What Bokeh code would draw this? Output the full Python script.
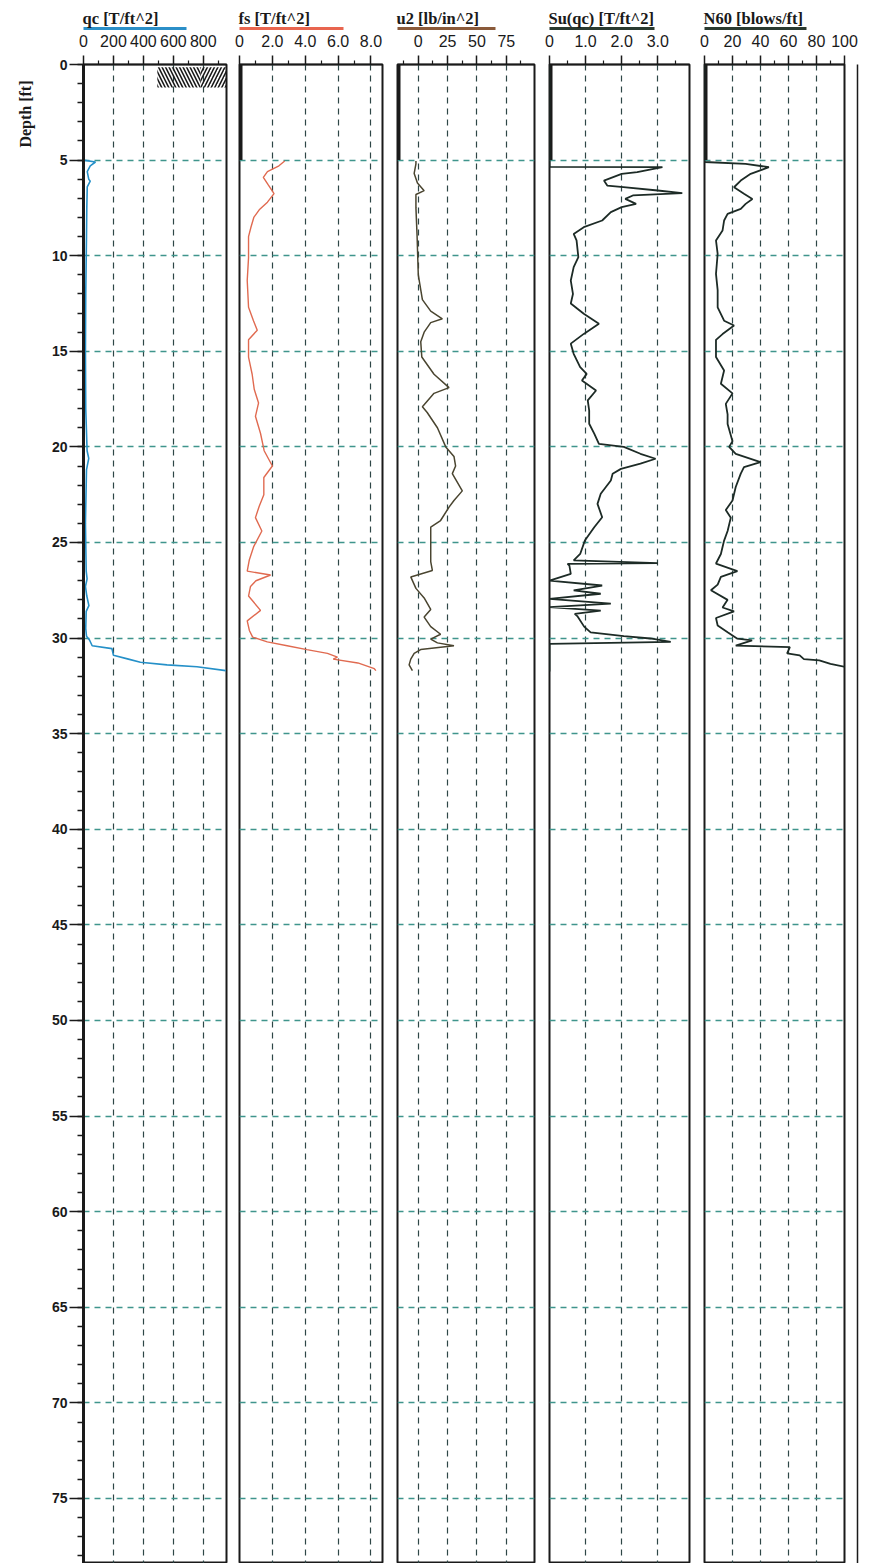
from bokeh.plotting import figure
from bokeh.layouts import row
from bokeh.models import Range1d, LinearAxis, FixedTicker, Grid, Title
from bokeh.embed import file_html
from bokeh.resources import INLINE

# ---------------- data ----------------
DEPTH_MAX = 78.4
DEPTH_TICKS = list(range(0, 80, 5))
DEPTH_MINOR = list(range(0, 79))
PREDRILL = [0.0, 5.0]

qc_depth = [5.0, 5.1, 5.3, 5.6, 6.0, 6.1, 6.4, 7.5, 9.0, 12.0, 15.0, 18.0, 20.2, 20.6, 21.2, 24.0,
            26.5, 26.9, 27.3, 27.8, 28.3, 28.6, 29.5, 29.9, 30.1, 30.4, 30.55, 30.9, 31.1, 31.26,
            31.4, 31.5, 31.7]
qc_value = [0, 80, 45, 25, 35, 45, 25, 22, 20, 15, 13, 15, 24, 35, 20, 13,
            18, 24, 13, 22, 36, 18, 15, 20, 40, 58, 190, 200, 300, 380,
            558, 758, 950]

fs_depth = [5.05, 5.3, 5.6, 5.9, 6.3, 6.75, 7.2, 7.6, 8.0, 8.5, 9.0, 10.1, 11.3, 12.7, 13.4, 13.9,
            14.4, 15.3, 16.2, 17.0, 17.7, 18.4, 19.3, 20.2, 21.0, 21.6, 22.5, 23.1, 23.7, 24.4,
            25.2, 25.9, 26.5, 26.7, 27.0, 27.3, 27.8, 28.55, 29.1, 29.6, 29.95, 30.2, 30.4, 30.6,
            30.8, 31.0, 31.1, 31.3, 31.6, 31.7]
fs_value = [2.75, 2.4, 1.7, 1.45, 1.75, 2.1, 1.7, 1.2, 0.87, 0.7, 0.55, 0.55, 0.47, 0.55, 0.85, 1.08,
            0.55, 0.55, 0.77, 0.9, 1.16, 0.97, 1.28, 1.5, 2.0, 1.48, 1.48, 1.2, 0.97, 1.36,
            0.87, 0.6, 0.47, 1.89, 1.0, 0.67, 0.55, 1.28, 0.47, 0.6, 0.8, 1.69, 2.9, 4.1,
            5.35, 5.96, 5.7, 7.2, 8.2, 8.3]

u2_depth = [5.05, 5.2, 5.7, 6.2, 6.6, 6.8, 7.5, 9.0, 11.0, 12.3, 12.9, 13.3, 13.5, 14.0, 14.5, 15.3,
            16.2, 16.9, 17.2, 17.9, 18.2, 19.0, 20.0, 20.5, 21.0, 21.4, 22.3, 22.8, 23.15, 23.85,
            24.2, 25.2, 26.0, 26.46, 26.8, 27.4, 27.9, 28.5, 28.9, 29.4, 29.8, 30.05, 30.25, 30.4,
            30.6, 30.8, 31.1, 31.4, 31.7]
u2_value = [-2, -2, -3.5, -0.7, 5, -2, -2, -1, 0, 3.5, 10.6, 20.5, 10.6, 5, 2.1, 3,
            13.4, 26.2, 13.4, 3.5, 7.6, 16.3, 23.4, 30.4, 31.8, 29, 37.5, 30.4, 26.2, 19,
            10.6, 10.6, 10.6, 12, -6.4, -2, 5, 10.6, 5, 10.6, 19, 10.6, 16.3, 30.4,
            2, -3.5, -6.4, -7.8, -5]

su_depth = [0.0, 5.35, 5.37, 5.63, 5.72, 6.07, 6.33, 6.41, 6.59, 6.73, 6.85, 7.03, 7.29, 7.46, 7.72,
            8.16, 8.51, 8.86, 9.2, 10.08, 10.6, 11.3, 12.0, 12.5, 13.04, 13.56, 14.09, 14.6, 15.13,
            15.83, 16.18, 16.53, 17.05, 17.57, 18.1, 18.79, 19.31, 19.84, 20.0, 20.36, 20.62, 20.88,
            21.15, 21.4, 21.76, 22.45, 22.98, 23.68, 24.2, 24.9, 25.6, 25.94, 26.08, 26.12, 26.2,
            26.64, 26.99, 27.25, 27.5, 27.68, 27.95, 28.2, 28.38, 28.56, 28.73, 28.85, 29.4, 29.7,
            29.9, 30.02, 30.2, 30.3, 31.75]
su_value = [0.0, 0.0, 3.13, 2.43, 2.0, 1.51, 1.6, 2.05, 3.0, 3.68, 2.31, 2.1, 2.4, 2.0, 1.7,
            1.46, 0.95, 0.67, 0.75, 0.8, 0.67, 0.59, 0.65, 0.59, 0.95, 1.37, 0.95, 0.59, 0.67,
            0.85, 1.03, 0.9, 1.29, 1.06, 1.1, 1.1, 1.24, 1.37, 2.06, 2.52, 2.94, 2.52,
            1.98, 1.75, 1.7, 1.42, 1.33, 1.46, 1.24, 0.98, 0.85, 0.67, 3.0, 0.5, 0.55,
            0.59, 0.0, 1.46, 0.67, 1.42, 0.0, 1.7, 0.0, 1.42, 0.7, 0.77, 0.96, 1.14,
            2.06, 2.8, 3.36, 0.0, 0.0]

n60_depth = [0.0, 5.1, 5.2, 5.37, 5.72, 6.07, 6.42, 6.76, 7.03, 7.29, 7.55, 7.81, 8.16, 8.68, 9.2,
             9.9, 10.95, 11.8, 12.7, 13.4, 13.65, 14.1, 14.4, 15.3, 16.0, 16.7, 17.2, 17.75, 18.3,
             18.8, 19.7, 20.0, 20.36, 20.8, 21.06, 21.4, 22.1, 22.8, 23.3, 23.7, 24.4, 24.9, 25.6,
             26.1, 26.5, 26.8, 27.2, 27.5, 28.0, 28.4, 28.6, 28.95, 29.34, 29.69, 30.03, 30.12,
             30.39, 30.47, 30.8, 30.9, 31.1, 31.17, 31.35, 31.52]
n60_value = [0.0, 0.0, 29.4, 46, 33, 25.9, 21.1, 28.2, 34.2, 29.4, 25.9, 16.5, 14, 12.9, 8.2,
             9.4, 8.2, 9.4, 9.4, 14, 21.1, 12.9, 8.2, 8.2, 14, 11.7, 20, 15.2, 16.5,
             16.5, 20, 17.6, 22.3, 40, 28.2, 25.9, 22.3, 20, 15.2, 18.8, 16.5, 14, 11.7,
             8.2, 23.5, 11.7, 9.4, 4.6, 16.5, 12.9, 21.1, 8.2, 9.4, 16.5, 23.5, 34,
             22.3, 61, 59, 68, 71, 82, 90, 101.6]

# soil-symbol band drawn in the qc track
soil_left = [493, 780]
soil_right = [780, 955]
soil_top = [0.15, 0.15]
soil_bottom = [1.2, 1.2]
soil_hatch = ["\\", "/"]

qc_ticks, qc_minor, qc_labels = [0, 200, 400, 600, 800], [100, 300, 500, 700, 900], ["0", "200", "400", "600", "800"]
fs_ticks, fs_minor, fs_labels = [0, 2, 4, 6, 8], [1, 3, 5, 7], ["0", "2.0", "4.0", "6.0", "8.0"]
u2_ticks, u2_minor, u2_labels = [0, 25, 50, 75], [-12.5, 12.5, 37.5, 62.5, 87.5], ["0", "25", "50", "75"]
su_ticks, su_minor, su_labels = [0, 1, 2, 3], [0.5, 1.5, 2.5, 3.5], ["0", "1.0", "2.0", "3.0"]
n60_ticks, n60_minor, n60_labels = [0, 20, 40, 60, 80, 100], [10, 30, 50, 70, 90], ["0", "20", "40", "60", "80", "100"]

# ---------------- style ----------------
TITLE_FONT = "Liberation Serif"
TICK_FONT = "Liberation Sans"
INK = "#1a1a1a"
HGRID = "#3f958c"
VGRID = "#2e4646"
TOP = 64
H = TOP + 1499


def spacer_axis(loc_ticks, size):
    return LinearAxis(ticker=FixedTicker(ticks=loc_ticks), major_tick_out=size, minor_tick_out=0,
                      major_tick_in=0, minor_tick_in=0, major_label_standoff=0,
                      major_tick_line_alpha=0, axis_line_alpha=0,
                      major_label_text_alpha=0, major_label_text_font_size="1px")


def make_panel(title, xr, ticks, minor, labels, header_end, header_color,
               width, mbl, mbr, first=False):
    p = figure(width=width, height=H, output_backend="svg", toolbar_location=None,
               x_range=Range1d(*xr), y_range=Range1d(DEPTH_MAX, 0),
               x_axis_location=None, y_axis_location=None,
               min_border_left=mbl, min_border_right=mbr,
               min_border_top=TOP, min_border_bottom=0,
               background_fill_color="white", border_fill_color="white")
    p.center = [r for r in p.center if not isinstance(r, Grid)]
    p.outline_line_color = INK
    p.outline_line_width = 2

    ax = LinearAxis(ticker=FixedTicker(ticks=ticks, minor_ticks=minor))
    ax.major_label_overrides = {t: l for t, l in zip(ticks, labels)}
    ax.major_tick_out = 9
    ax.major_tick_in = 0
    ax.minor_tick_out = 4
    ax.minor_tick_in = 0
    ax.major_label_standoff = 9
    ax.major_label_text_font = TICK_FONT
    ax.major_label_text_font_size = "16px"
    ax.major_label_text_color = INK
    ax.axis_line_color = INK
    ax.axis_line_width = 1.5
    ax.major_tick_line_color = INK
    ax.major_tick_line_width = 1.5
    ax.minor_tick_line_color = INK
    ax.minor_tick_line_width = 1.2
    p.add_layout(ax, "above")

    p.add_layout(spacer_axis([ticks[1]], 3), "above")

    la = LinearAxis(ticker=FixedTicker(ticks=[]), bounds=(xr[0], header_end),
                    major_tick_out=0, minor_tick_out=0, major_tick_in=0, minor_tick_in=0,
                    major_label_standoff=0, axis_line_color=header_color, axis_line_width=3)
    p.add_layout(la, "above")

    p.title.text = title
    p.title.text_font = TITLE_FONT
    p.title.text_font_size = "16.5px"
    p.title.text_font_style = "bold"
    p.title.text_color = INK
    p.title.align = "left"
    p.title.standoff = 2
    p.title.offset = -1

    p.add_layout(Grid(dimension=0, ticker=FixedTicker(ticks=ticks), grid_line_color=VGRID,
                      grid_line_dash="6 5", grid_line_width=1.2))
    p.add_layout(Grid(dimension=1, ticker=FixedTicker(ticks=DEPTH_TICKS), grid_line_color=HGRID,
                      grid_line_dash="6 5", grid_line_width=1.3))

    if first:
        ya = LinearAxis(ticker=FixedTicker(ticks=DEPTH_TICKS, minor_ticks=DEPTH_MINOR))
        ya.major_tick_out = 14
        ya.major_tick_in = 0
        ya.minor_tick_out = 6
        ya.minor_tick_in = 0
        ya.major_label_standoff = 2
        ya.major_label_text_font = TICK_FONT
        ya.major_label_text_font_style = "bold"
        ya.major_label_text_font_size = "14px"
        ya.major_label_text_color = INK
        ya.axis_line_color = INK
        ya.axis_line_width = 3
        ya.major_tick_line_color = INK
        ya.major_tick_line_width = 1.5
        ya.minor_tick_line_color = INK
        ya.minor_tick_line_width = 1.5
        p.add_layout(ya, "left")
        t = Title(text="Depth [ft]", align="right", text_font=TITLE_FONT,
                  text_font_size="16px", text_font_style="bold", text_color=INK,
                  standoff=29, offset=16)
        p.add_layout(t, "left")
    else:
        p.line(x=[xr[0], xr[0]], y=PREDRILL, line_color=INK, line_width=6)
    return p


p1 = make_panel("qc [T/ft^2]", (0, 955), qc_ticks, qc_minor, qc_labels, 687, "#2b8fc8",
                232, 83, 6, first=True)
p1.quad(left=soil_left, right=soil_right, top=soil_top, bottom=soil_bottom,
        fill_alpha=0, line_alpha=0, hatch_pattern=soil_hatch, hatch_color=INK,
        hatch_weight=1.6, hatch_scale=7)
p1.line(x=qc_value, y=qc_depth, line_color="#2590c8", line_width=1.6)

p2 = make_panel("fs [T/ft^2]", (0, 8.7), fs_ticks, fs_minor, fs_labels, 6.3, "#e8654f",
                157, 7, 7)
p2.line(x=fs_value, y=fs_depth, line_color="#e06a50", line_width=1.4)

p3 = make_panel("u2 [lb/in^2]", (-17.7, 99), u2_ticks, u2_minor, u2_labels, 65.8, "#8a5a3a",
                152, 8, 7)
p3.line(x=u2_value, y=u2_depth, line_color="#4a4530", line_width=1.5)

p4 = make_panel("Su(qc) [T/ft^2]", (0, 3.88), su_ticks, su_minor, su_labels, 2.9, "#2a3a30",
                155, 8, 7)
p4.line(x=su_value, y=su_depth, line_color="#1d2b26", line_width=1.8)

p5 = make_panel("N60 [blows/ft]", (0, 100), n60_ticks, n60_minor, n60_labels, 73, "#2a3a30",
                168, 8, 20)
p5.line(x=n60_value, y=n60_depth, line_color="#1d2b26", line_width=1.8)
p5.add_layout(spacer_axis([40], 13), "right")
rl = LinearAxis(ticker=FixedTicker(ticks=[]), major_tick_out=0, minor_tick_out=0,
                major_tick_in=0, minor_tick_in=0, major_label_standoff=0,
                axis_line_color=INK, axis_line_width=1.5)
p5.add_layout(rl, "right")

layout = row(p1, p2, p3, p4, p5)
open("out.html", "w").write(file_html(layout, INLINE))
